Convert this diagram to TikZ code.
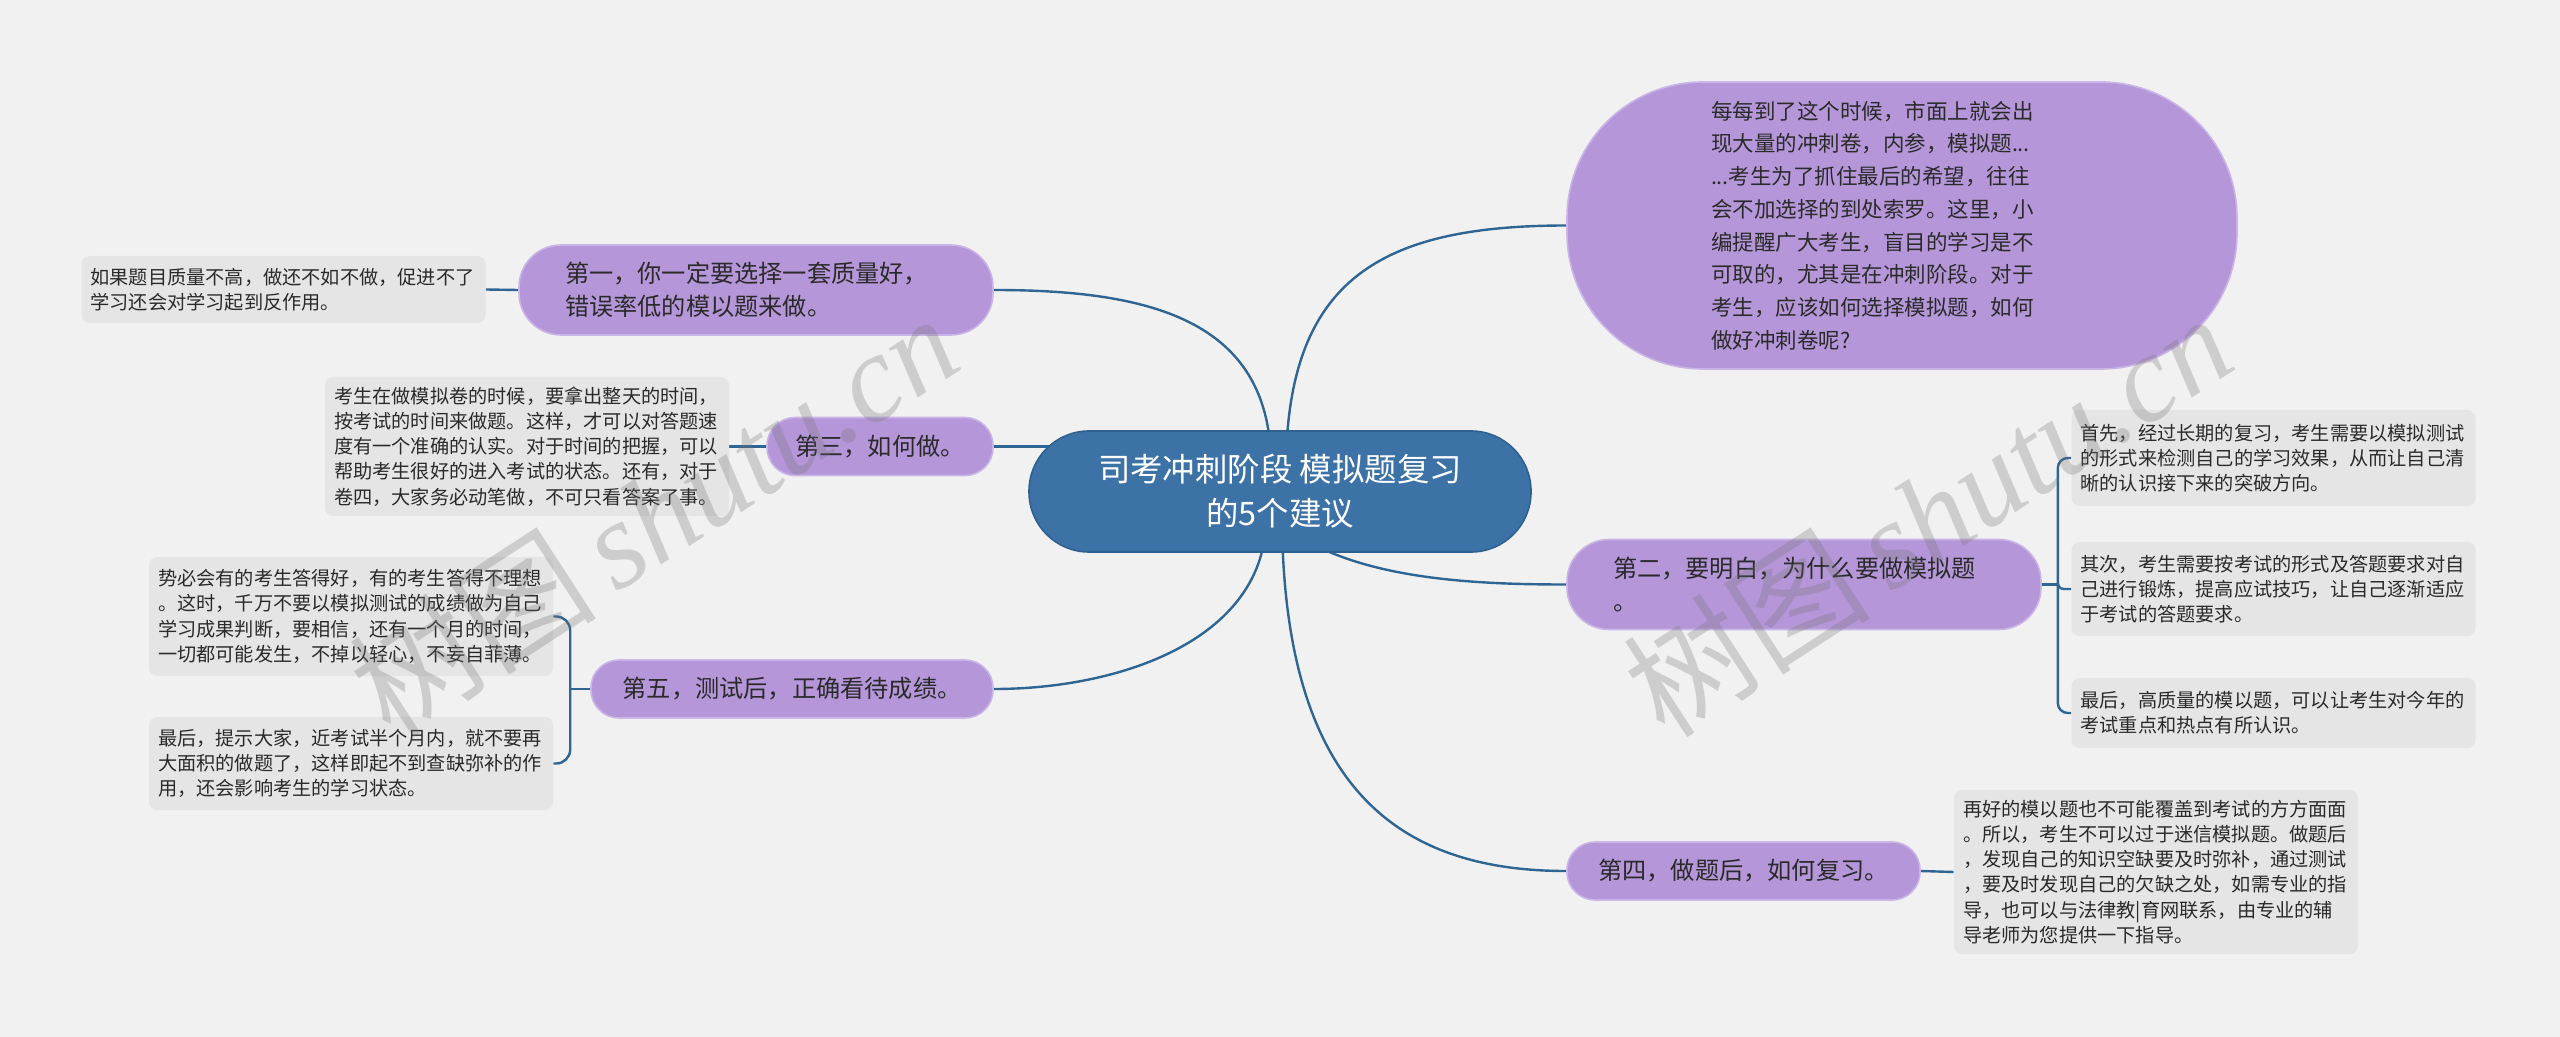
\documentclass[tikz,border=0pt]{standalone}
\usepackage{fontspec}
\setmainfont{Noto Sans CJK SC}
\newfontfamily\wmlatin{Liberation Serif}
\usetikzlibrary{calc}
\pgfdeclarelayer{back}
\pgfdeclarelayer{lines}
\pgfsetlayers{back,lines,main}
\definecolor{bg}{HTML}{F1F1F1}
\definecolor{purp}{HTML}{B597D9}
\definecolor{purpb}{HTML}{C9B5E6}
\definecolor{ctr}{HTML}{3D72A6}
\definecolor{ctrb}{HTML}{2F6190}
\definecolor{linec}{HTML}{2F6592}
\definecolor{leafg}{HTML}{E5E5E5}
\definecolor{txt}{HTML}{2A2A2A}
\definecolor{wm}{HTML}{707070}
\begin{document}
\begin{tikzpicture}[x=0.5pt,y=-0.5pt,
  conn/.style={draw=linec, line width=1.2pt},
  purpnode/.style={fill=purp, draw=purpb, line width=0.8pt, text=txt},
  bignode/.style={purpnode, rounded corners=21pt, minimum height=45pt, text width=191pt, inner xsep=23pt, align=left, font=\fontsize{12.1}{16.3}\selectfont},
  pillnode/.style={purpnode, rounded corners=14pt, minimum height=29pt, align=center, font=\fontsize{12.1}{16.3}\selectfont},
  leaf/.style={fill=leafg, rounded corners=4pt, text=txt, font=\fontsize{9.6}{12.6}\selectfont, align=left, text width=193pt, inner xsep=4.5pt, inner ysep=0pt},
  wmark/.style={text=wm, opacity=0.28, rotate=33, font=\fontsize{62}{70}\selectfont}
]
\begin{pgfonlayer}{back}
\fill[bg] (0,0) rectangle (2560,1037);
\end{pgfonlayer}
\useasboundingbox (0,0) rectangle (2560,1037);

% central node
\node[fill=ctr, draw=ctrb, line width=0.8pt, rounded corners=30pt, minimum width=251pt, minimum height=60.5pt, text=white, align=center, font=\fontsize{16.2}{22}\selectfont] (c) at (1280,491.5) {司考冲刺阶段 模拟题复习\\的5个建议};

% top-right node
\node[purpnode, rounded corners=68pt, minimum height=143.5pt, text width=191pt, inner xsep=72pt, align=left, font=\fontsize{10.75}{16.35}\selectfont] (tr) at (1902,225.5) {每每到了这个时候，市面上就会出\\现大量的冲刺卷，内参，模拟题...\\...考生为了抓住最后的希望，往往\\会不加选择的到处索罗。这里，小\\编提醒广大考生，盲目的学习是不\\可取的，尤其是在冲刺阶段。对于\\考生，应该如何选择模拟题，如何\\做好冲刺卷呢?};

% main branches
\node[bignode] (n1) at (756,290) {第一，你一定要选择一套质量好，\\错误率低的模以题来做。};
\node[bignode] (n2) at (1804,584.5) {第二，要明白，为什么要做模拟题\\。};
\node[pillnode, minimum width=113pt] (n3) at (880,446.5) {第三，如何做。};
\node[pillnode, minimum width=201pt] (n5) at (792,689) {第五，测试后，正确看待成绩。};
\node[pillnode, minimum width=176.5pt] (n4) at (1743.5,871) {第四，做题后，如何复习。};

% leaves
\node[leaf, minimum height=33.5pt] (L1) at (283.5,289.5) {如果题目质量不高，做还不如不做，促进不了\\学习还会对学习起到反作用。};
\node[leaf, minimum height=69.5pt] (L3) at (527,446.5) {考生在做模拟卷的时候，要拿出整天的时间，\\按考试的时间来做题。这样，才可以对答题速\\度有一个准确的认实。对于时间的把握，可以\\帮助考生很好的进入考试的状态。还有，对于\\卷四，大家务必动笔做，不可只看答案了事。};
\node[leaf, minimum height=59.5pt] (L5a) at (351,616.5) {势必会有的考生答得好，有的考生答得不理想\\。这时，千万不要以模拟测试的成绩做为自己\\学习成果判断，要相信，还有一个月的时间，\\一切都可能发生，不掉以轻心，不妄自菲薄。};
\node[leaf, minimum height=46.5pt] (L5b) at (351,763.5) {最后，提示大家，近考试半个月内，就不要再\\大面积的做题了，这样即起不到查缺弥补的作\\用，还会影响考生的学习状态。};
\node[leaf, minimum height=48pt] (L2a) at (2273.5,458) {首先，经过长期的复习，考生需要以模拟测试\\的形式来检测自己的学习效果，从而让自己清\\晰的认识接下来的突破方向。};
\node[leaf, minimum height=47pt] (L2b) at (2273.5,589) {其次，考生需要按考试的形式及答题要求对自\\己进行锻炼，提高应试技巧，让自己逐渐适应\\于考试的答题要求。};
\node[leaf, minimum height=35pt] (L2c) at (2273.5,713) {最后，高质量的模以题，可以让考生对今年的\\考试重点和热点有所认识。};
\node[leaf, minimum height=82pt] (L4) at (2156,872) {再好的模以题也不可能覆盖到考试的方方面面\\。所以，考生不可以过于迷信模拟题。做题后\\，发现自己的知识空缺要及时弥补，通过测试\\，要及时发现自己的欠缺之处，如需专业的指\\导，也可以与法律教|育网联系，由专业的辅\\导老师为您提供一下指导。};

% connectors
\begin{pgfonlayer}{lines}
\draw[conn] ($(c.north)+(6,30)$) .. controls (1290,280) and (1380,225.5) .. (tr.west);
\draw[conn] ($(c.north)+(-9,30)$) .. controls (1268,320) and (1150,290) .. (n1.east);
\draw[conn] (n3.east) -- ($(n3.east -| c.west)+(40,0)$);
\draw[conn] ($(c.south)+(-14,-30)$) .. controls (1262,640) and (1120,689) .. (n5.east);
\draw[conn] ($(c.south)+(2,-30)$) .. controls (1285,790) and (1400,871) .. (n4.west);
\draw[conn] ($(c.south)+(30,-10)$) .. controls (1380,580) and (1480,584.5) .. (n2.west);

\draw[conn] (n1.west) -- (L1.east);
\draw[conn] (n3.west) -- (L3.east);
\draw[conn] (n4.east) -- (L4.west);

\coordinate (b5) at ($(n5.west)+(-20,0)$);
\draw[conn] (n5.west) -- (b5);
\draw[conn, rounded corners=7pt] (L5a.east) -| (b5) |- (L5b.east);

\coordinate (b2) at ($(n2.east)+(16,0)$);
\draw[conn] (n2.east) -- (b2);
\draw[conn, rounded corners=5pt] (L2a.west) -| (b2) |- (L2c.west);
\draw[conn, rounded corners=3pt] (b2) |- (L2b.west);
\end{pgfonlayer}

% watermarks
\node[wmark] (wm1) at (653,514) {树图\,{\wmlatin\itshape shutu.cn}};
\node[wmark] (wm2) at (1927,514) {树图\,{\wmlatin\itshape shutu.cn}};
\end{tikzpicture}
\end{document}
